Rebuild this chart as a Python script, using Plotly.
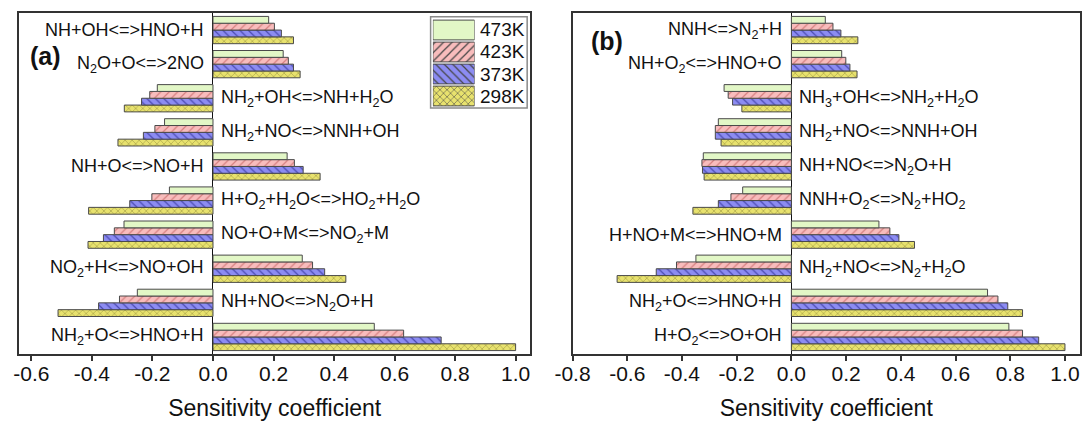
import plotly.graph_objects as go

# ---------------- data ----------------
temps = ["473K", "423K", "373K", "298K"]

# Panel (a): reactions listed top -> bottom
reactions_a = [
    "NH+OH&lt;=&gt;HNO+H",
    "N<sub>2</sub>O+O&lt;=&gt;2NO",
    "NH<sub>2</sub>+OH&lt;=&gt;NH+H<sub>2</sub>O",
    "NH<sub>2</sub>+NO&lt;=&gt;NNH+OH",
    "NH+O&lt;=&gt;NO+H",
    "H+O<sub>2</sub>+H<sub>2</sub>O&lt;=&gt;HO<sub>2</sub>+H<sub>2</sub>O",
    "NO+O+M&lt;=&gt;NO<sub>2</sub>+M",
    "NO<sub>2</sub>+H&lt;=&gt;NO+OH",
    "NH+NO&lt;=&gt;N<sub>2</sub>O+H",
    "NH<sub>2</sub>+O&lt;=&gt;HNO+H",
]
a_473 = [0.184, 0.232, -0.184, -0.160, 0.245, -0.144, -0.294, 0.295, -0.250, 0.533]
a_423 = [0.203, 0.249, -0.209, -0.192, 0.269, -0.202, -0.326, 0.329, -0.309, 0.630]
a_373 = [0.226, 0.266, -0.236, -0.230, 0.298, -0.275, -0.362, 0.369, -0.378, 0.754]
a_298 = [0.266, 0.288, -0.293, -0.314, 0.354, -0.411, -0.413, 0.439, -0.512, 1.000]

# Panel (b): reactions listed top -> bottom
reactions_b = [
    "NNH&lt;=&gt;N<sub>2</sub>+H",
    "NH+O<sub>2</sub>&lt;=&gt;HNO+O",
    "NH<sub>3</sub>+OH&lt;=&gt;NH<sub>2</sub>+H<sub>2</sub>O",
    "NH<sub>2</sub>+NO&lt;=&gt;NNH+OH",
    "NH+NO&lt;=&gt;N<sub>2</sub>O+H",
    "NNH+O<sub>2</sub>&lt;=&gt;N<sub>2</sub>+HO<sub>2</sub>",
    "H+NO+M&lt;=&gt;HNO+M",
    "NH<sub>2</sub>+NO&lt;=&gt;N<sub>2</sub>+H<sub>2</sub>O",
    "NH<sub>2</sub>+O&lt;=&gt;HNO+H",
    "H+O<sub>2</sub>&lt;=&gt;O+OH",
]
b_473 = [0.124, 0.184, -0.246, -0.267, -0.322, -0.178, 0.320, -0.349, 0.717, 0.795]
b_423 = [0.152, 0.199, -0.231, -0.278, -0.327, -0.221, 0.360, -0.420, 0.755, 0.845]
b_373 = [0.181, 0.214, -0.215, -0.278, -0.325, -0.267, 0.393, -0.494, 0.791, 0.904]
b_298 = [0.243, 0.240, -0.181, -0.257, -0.319, -0.360, 0.450, -0.637, 0.845, 1.000]

x_ticks_a = [-0.6, -0.4, -0.2, 0.0, 0.2, 0.4, 0.6, 0.8, 1.0]
x_ticklabels_a = ["-0.6", "-0.4", "-0.2", "0.0", "0.2", "0.4", "0.6", "0.8", "1.0"]
x_ticks_b = [-0.8, -0.6, -0.4, -0.2, 0.0, 0.2, 0.4, 0.6, 0.8, 1.0]
x_ticklabels_b = ["-0.8", "-0.6", "-0.4", "-0.2", "0.0", "0.2", "0.4", "0.6", "0.8", "1.0"]
x_title = "Sensitivity coefficient"

# ---------------- styles ----------------
FONT = "Arial, Liberation Sans, sans-serif"
style = {
    "473K": dict(bg="#e2f7c6", fg="#e2f7c6", shape="", size=6),
    "423K": dict(bg="#f8bcbc", fg="#d58080", shape="/", size=6),
    "373K": dict(bg="#8c8cf2", fg="#4a4ab0", shape="\\", size=6),
    "298K": dict(bg="#e8e26e", fg="#9a943e", shape="x", size=5),
}
edge = "#4a4a4a"

W, H = 1083, 421
ML, MR, MT, MB = 13, 1, 13, 67
PW, PH = W - ML - MR, H - MT - MB


def px_x(p):
    return (p - ML) / PW


def px_y(p):
    return (H - MB - p) / PH


fig = go.Figure()

panels = [
    ("x", "y", reactions_a, {"473K": a_473, "423K": a_423, "373K": a_373, "298K": a_298}),
    ("x2", "y2", reactions_b, {"473K": b_473, "423K": b_423, "373K": b_373, "298K": b_298}),
]


def bar_marker(colors, fgs, shapes, sizes):
    return dict(
        color=colors,
        line=dict(color=edge, width=1),
        pattern=dict(shape=shapes, fgcolor=fgs, fgopacity=1,
                     size=sizes, solidity=0.2, fillmode="overlay"),
    )


for xa, ya, reacts, vals in panels:
    cats = list(reversed(reacts))  # bottom -> top
    for t in ["298K", "373K", "423K", "473K"]:
        v = list(reversed(vals[t]))
        s = style[t]
        fig.add_trace(go.Bar(
            x=v, y=cats, orientation="h", xaxis=xa, yaxis=ya, showlegend=False,
            name=t, marker=bar_marker(s["bg"], s["fg"], s["shape"], s["size"]),
        ))
    base = vals["473K"]
    for i, r in enumerate(reacts):
        idx = len(reacts) - 1 - i
        pos = base[i] > 0
        fig.add_annotation(
            x=0, y=idx, xref=xa, yref=ya, text=r, showarrow=False,
            xanchor="right" if pos else "left", xshift=-7 if pos else 6,
            yanchor="middle", font=dict(family=FONT, size=18, color="#111"),
        )

# custom legend drawn as bars
leg_cats = list(reversed(temps))  # bottom -> top
fig.add_trace(go.Bar(
    x=[1] * len(leg_cats), y=leg_cats, orientation="h", xaxis="x3", yaxis="y3",
    showlegend=False, width=0.9, hoverinfo="skip",
    marker=bar_marker([style[t]["bg"] for t in leg_cats],
                      [style[t]["fg"] for t in leg_cats],
                      [style[t]["shape"] for t in leg_cats],
                      [style[t]["size"] for t in leg_cats]),
))
for i, t in enumerate(leg_cats):
    fig.add_annotation(x=px_x(475), y=i, xref="paper", yref="y3", text=t,
                       showarrow=False, xanchor="left", yanchor="middle",
                       font=dict(family=FONT, size=19, color="#111"))
fig.add_shape(type="rect", xref="paper", yref="paper",
              x0=px_x(427.7), x1=px_x(525), y0=px_y(108), y1=px_y(16.7),
              line=dict(color="#8a8a8a", width=1.5), fillcolor="rgba(0,0,0,0)")

# panel letters
fig.add_annotation(x=px_x(40), y=px_y(56), xref="paper", yref="paper", text="<b>(a)</b>",
                   showarrow=False, xanchor="center", yanchor="middle",
                   font=dict(family=FONT, size=25, color="#111"))
fig.add_annotation(x=px_x(605), y=px_y(41), xref="paper", yref="paper", text="<b>(b)</b>",
                   showarrow=False, xanchor="center", yanchor="middle",
                   font=dict(family=FONT, size=25, color="#111"))

axis_common = dict(
    showline=True, mirror=True, linecolor="#333", linewidth=1.5,
    ticks="outside", ticklen=5, tickwidth=1.5, tickcolor="#333",
    showgrid=False, zeroline=True, zerolinecolor="#111", zerolinewidth=1.2,
    tickfont=dict(family=FONT, size=21, color="#111"),
    ticklabelstandoff=-5,
    title=dict(text=x_title, font=dict(family=FONT, size=23, color="#111"), standoff=16),
)
yaxis_common = dict(
    showline=True, mirror=True, linecolor="#333", linewidth=1.5,
    showticklabels=False, ticks="", showgrid=False, zeroline=False,
    range=[-0.5, 9.5],
)

fig.update_layout(
    width=W, height=H,
    margin=dict(l=ML, r=MR, t=MT, b=MB),
    paper_bgcolor="white", plot_bgcolor="white",
    barmode="group", bargap=0.2, bargroupgap=0,
    showlegend=False,
    xaxis=dict(domain=[0, px_x(528.3)], range=[-0.641, 1.049], tickvals=x_ticks_a,
               ticktext=x_ticklabels_a, anchor="y", **axis_common),
    yaxis=dict(domain=[0, 1], anchor="x", type="category",
               categoryorder="array", categoryarray=list(reversed(reactions_a)), **yaxis_common),
    xaxis2=dict(domain=[px_x(570.7), 1], range=[-0.8, 1.055], tickvals=x_ticks_b,
                ticktext=x_ticklabels_b, anchor="y2", **axis_common),
    yaxis2=dict(domain=[0, 1], anchor="x2", type="category",
                categoryorder="array", categoryarray=list(reversed(reactions_b)), **yaxis_common),
    xaxis3=dict(domain=[px_x(430), px_x(472)], range=[0, 1], visible=False, anchor="y3"),
    yaxis3=dict(domain=[px_y(107), px_y(19)], range=[-0.5, 3.5], visible=False, anchor="x3",
                type="category", categoryorder="array", categoryarray=leg_cats),
)

fig.write_html("out.html")
